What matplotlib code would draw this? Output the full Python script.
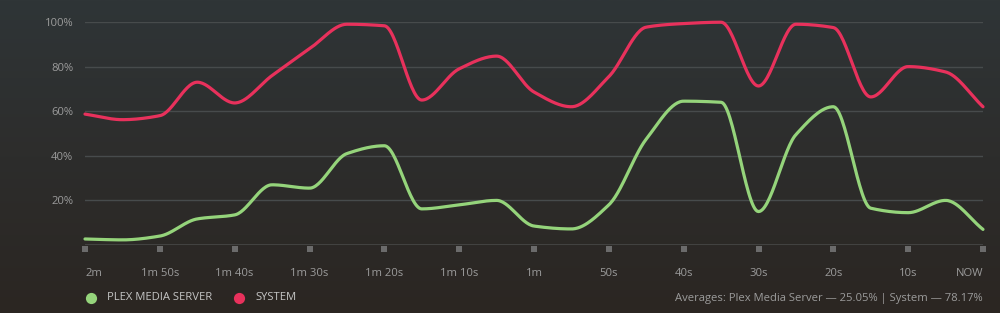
import numpy as np
import matplotlib
matplotlib.use("Agg")
import matplotlib.pyplot as plt
from matplotlib.colors import LinearSegmentedColormap

# seconds ago, one sample every 5s
seconds = list(range(120, -1, -5))
plex = [2.7, 2.3, 4.0, 11.7, 13.5, 27.0, 25.5, 41.0, 44.5, 16.2, 18.0, 20.0, 8.5,
        7.2, 18.0, 47.5, 64.5, 64.0, 15.0, 49.5, 62.0, 16.5, 14.5, 20.0, 7.0]
system = [58.7, 56.2, 58.0, 73.0, 63.7, 76.0, 88.0, 99.0, 98.3, 65.0, 79.0, 84.7, 68.6,
          62.0, 75.5, 97.7, 99.3, 99.9, 71.3, 99.0, 97.5, 66.4, 80.0, 77.6, 62.0]
tick_secs = list(range(120, -1, -10))
tick_labels = ["2m", "1m 50s", "1m 40s", "1m 30s", "1m 20s", "1m 10s", "1m",
               "50s", "40s", "30s", "20s", "10s", "NOW"]
yticks = [20, 40, 60, 80, 100]

GREEN = "#95d47b"
RED = "#e8315c"
FS = 8.1
plt.rcParams["font.family"] = ["Open Sans", "DejaVu Sans"]


def monotone(x, y, n=30):
    # Fritsch-Carlson monotone cubic, like the chart's smoothing
    x = np.asarray(x, float)
    y = np.asarray(y, float)
    h = np.diff(x)
    d = np.diff(y) / h
    m = np.zeros_like(y)
    m[0], m[-1] = d[0], d[-1]
    for i in range(1, len(y) - 1):
        if d[i - 1] * d[i] <= 0:
            m[i] = 0
        else:
            w1 = 2 * h[i] + h[i - 1]
            w2 = h[i] + 2 * h[i - 1]
            m[i] = (w1 + w2) / (w1 / d[i - 1] + w2 / d[i])
    xs, ys = [], []
    for i in range(len(x) - 1):
        t = np.linspace(0, 1, n, endpoint=False)
        h00 = 2 * t**3 - 3 * t**2 + 1
        h10 = t**3 - 2 * t**2 + t
        h01 = -2 * t**3 + 3 * t**2
        h11 = t**3 - t**2
        xs.append(x[i] + t * h[i])
        ys.append(h00 * y[i] + h10 * h[i] * m[i] + h01 * y[i + 1] + h11 * h[i] * m[i + 1])
    xs.append([x[-1]])
    ys.append([y[-1]])
    return np.concatenate(xs), np.concatenate(ys)


fig = plt.figure(figsize=(10, 3.13), dpi=100)

# background gradient
bg = fig.add_axes([0, 0, 1, 1])
cmap = LinearSegmentedColormap.from_list("bg", ["#2f3537", "#2d2d2c", "#2b2622"])
bg.imshow(np.linspace(0, 1, 256).reshape(-1, 1), aspect="auto", cmap=cmap,
          extent=[0, 1, 0, 1])
bg.set_xlim(0, 1)
bg.set_ylim(0, 1)
bg.axis("off")

ax = fig.add_axes([0.085, 1 - 245 / 313, 0.898, (245 - 22) / 313])
ax.set_facecolor("none")
ax.set_xlim(120, 0)
ax.set_ylim(0, 100)
for s in ax.spines.values():
    s.set_visible(False)

for v in yticks:
    ax.axhline(v, color="#474b4c", lw=1, zorder=1)
ax.axhline(0, color="#474847", lw=1.2, zorder=1)

ax.set_yticks(yticks)
ax.set_yticklabels([f"{v}%" for v in yticks], color="#9b9b9b", fontsize=FS)
ax.tick_params(axis="y", length=0, pad=8.5)
ax.set_xticks([])

# tick squares
ax.scatter(tick_secs, [-1.8] * len(tick_secs), marker="s", s=20, color="#6b6b6b",
           clip_on=False, zorder=2, linewidths=0)

for i, (s, lab) in enumerate(zip(tick_secs, tick_labels)):
    ha = "left" if i == 0 else ("right" if i == len(tick_secs) - 1 else "center")
    ax.text(s, -12.8, lab, ha=ha, va="center", color="#9b9b9b", fontsize=FS, clip_on=False)

xs, ys = monotone(seconds, system)
ax.plot(xs, ys, color=RED, lw=2.3, solid_capstyle="round", clip_on=False, zorder=3)
xs, ys = monotone(seconds, plex)
ax.plot(xs, ys, color=GREEN, lw=2.3, solid_capstyle="round", clip_on=False, zorder=3)

# legend
ly = 1 - 298 / 313
bg.scatter([0.091], [ly], s=65, color=GREEN, linewidths=0)
bg.scatter([0.239], [ly], s=65, color=RED, linewidths=0)
fig.text(107 / 1000, ly, "PLEX MEDIA SERVER", color="#c4c4c4", fontsize=FS, va="center")
fig.text(255 / 1000, ly, "SYSTEM", color="#c4c4c4", fontsize=FS, va="center")
fig.text(983 / 1000, 1 - 299 / 313,
         "Averages: Plex Media Server \u2014 25.05% | System \u2014 78.17%",
         color="#9b9b9b", fontsize=FS, ha="right", va="center")

fig.savefig("out.png", dpi=100)
